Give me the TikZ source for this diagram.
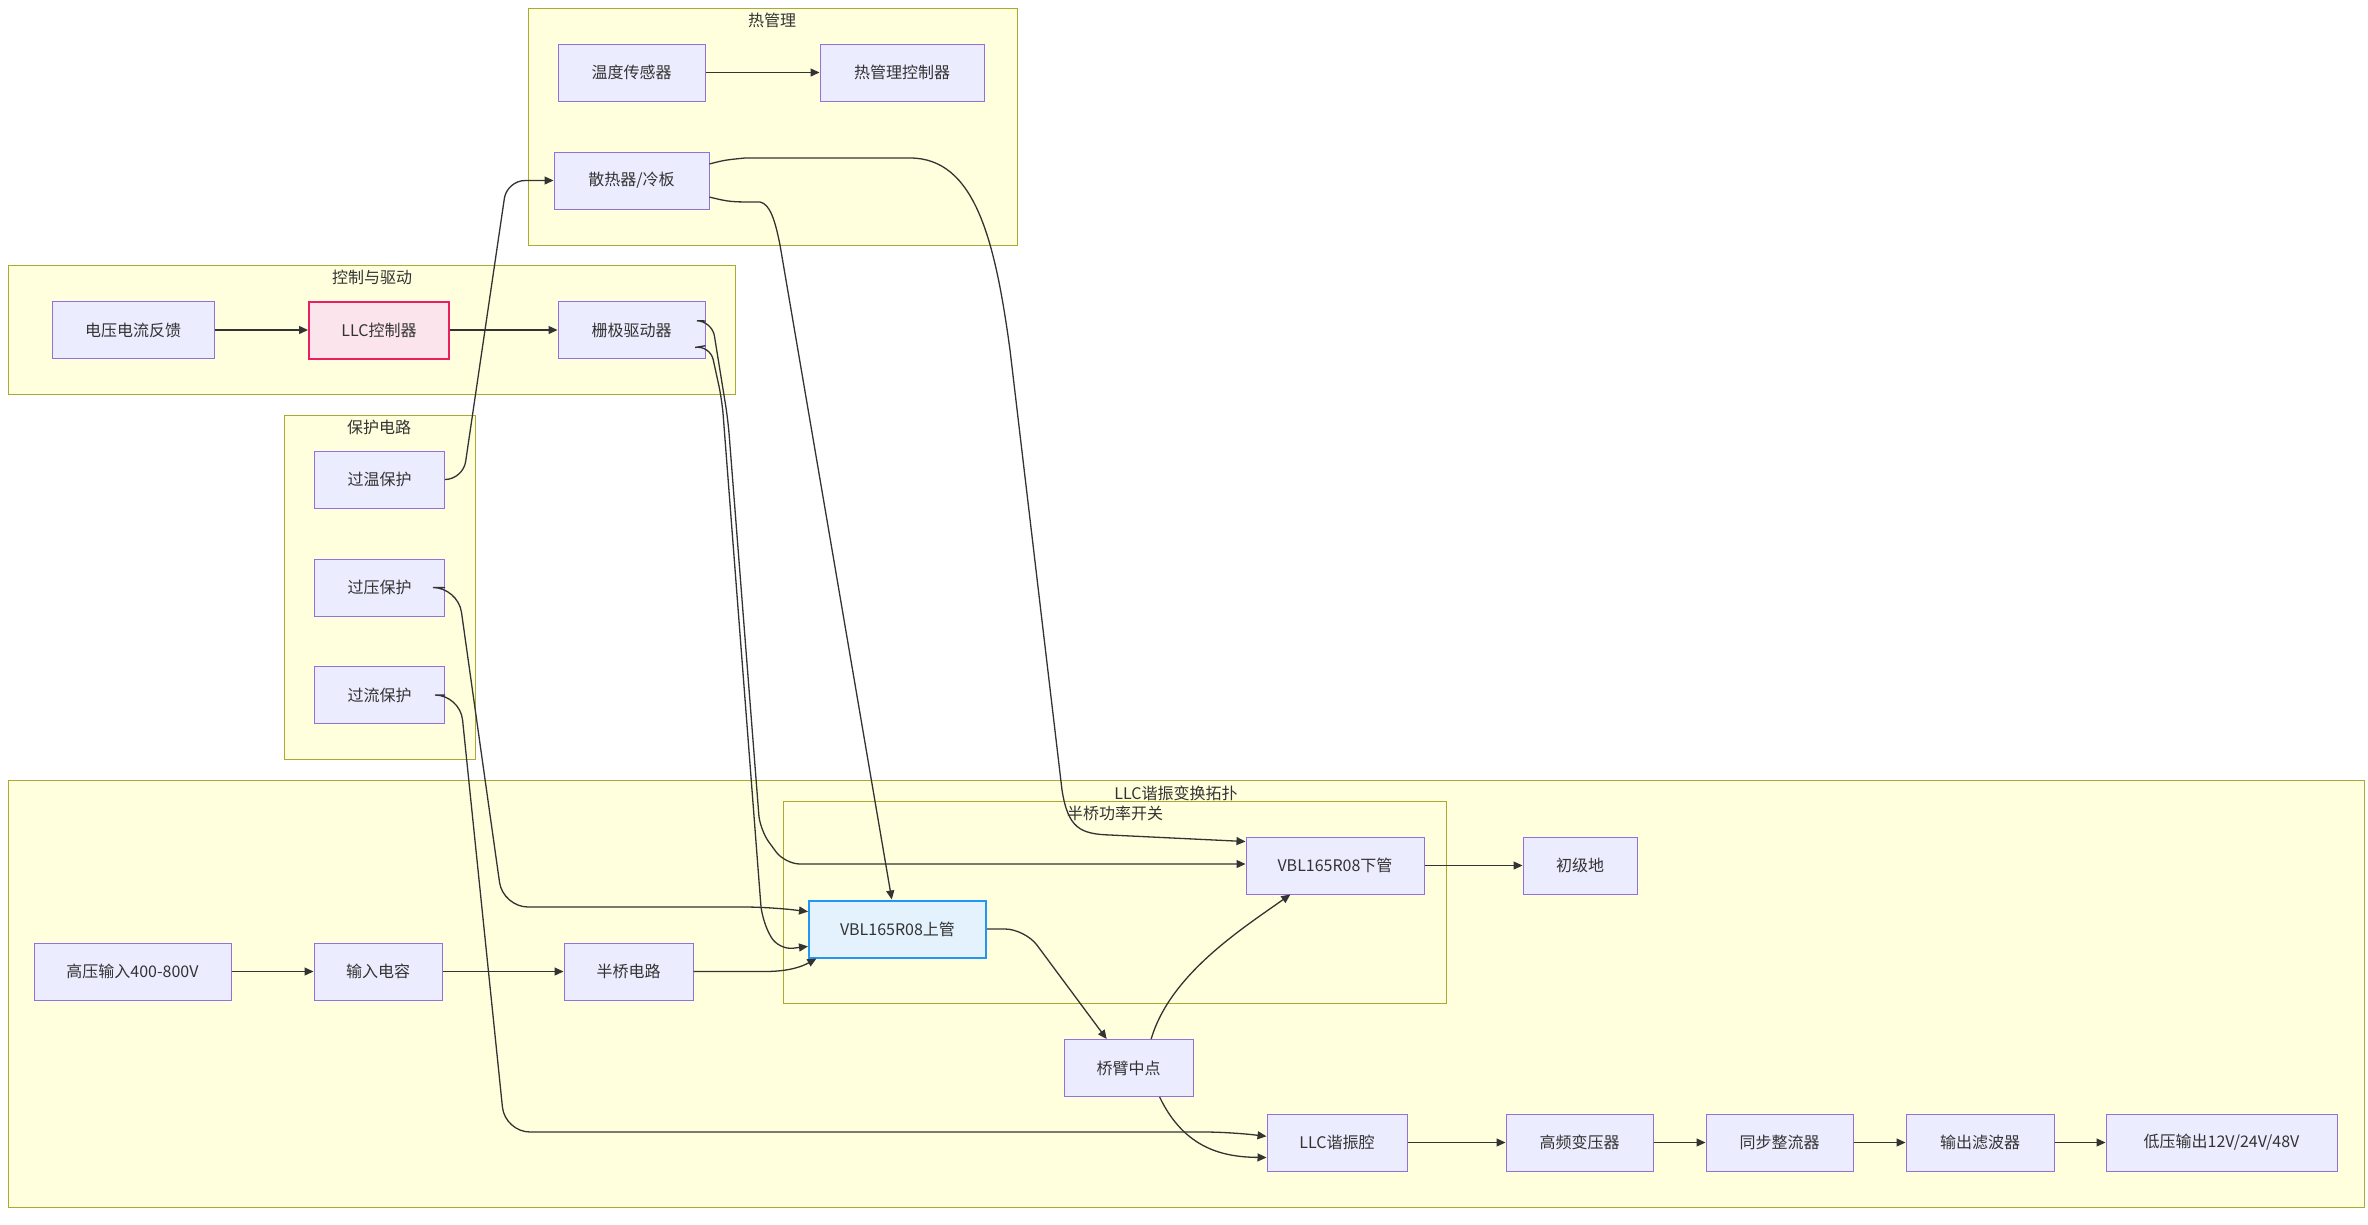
\documentclass[tikz,border=0pt]{standalone}
\usepackage{fontspec}
\setmainfont{Noto Sans CJK SC}
\usetikzlibrary{arrows.meta}
\definecolor{nodefill}{HTML}{ECECFF}
\definecolor{nodeline}{HTML}{9370DB}
\definecolor{grpfill}{HTML}{FFFFDE}
\definecolor{grpline}{HTML}{AAAA33}
\definecolor{edgecol}{HTML}{333333}
\definecolor{ctlfill}{HTML}{FCE4EC}
\definecolor{ctlline}{HTML}{E91E63}
\definecolor{fetfill}{HTML}{E3F2FD}
\definecolor{fetline}{HTML}{2196F3}

\begin{document}
\begin{tikzpicture}[x=1pt,y=-1pt,
    blk/.style={draw=nodeline,fill=nodefill,line width=1pt,minimum height=57pt,inner sep=0pt,text=edgecol,font=\fontsize{16}{19}\selectfont},
    grp/.style={draw=grpline,fill=grpfill,line width=1pt},
    grptitle/.style={text=edgecol,inner sep=0pt,font=\fontsize{16}{19}\selectfont},
    flow/.style={draw=edgecol,line width=1.3pt,-{Triangle[length=9pt,width=8pt]}}]
    \useasboundingbox (0,0) rectangle (2368,1224);

    % subgraphs
    \draw[grp] (528,8) rectangle (1017,245);
    \draw[grp] (8,265) rectangle (735,394);
    \draw[grp] (284,415) rectangle (475,759);
    \draw[grp] (8,780) rectangle (2364,1207);
    \draw[grp] (783,801) rectangle (1446,1003);
    \node[grptitle] (thtitle) at (772,20) {热管理};
    \node[grptitle] (cttitle) at (372,277) {控制与驱动};
    \node[grptitle] (prtitle) at (379,427) {保护电路};
    \node[grptitle] (lltitle) at (1176,793) {LLC谐振变换拓扑};
    \node[grptitle] (hbtitle) at (1115,813) {半桥功率开关};

    \node[blk,minimum width=147pt] (temp) at (631.5,72.5) {温度传感器};
    \node[blk,minimum width=164pt] (thctl) at (902,72.5) {热管理控制器};
    \node[blk,minimum width=155pt] (sink) at (631.5,180.5) {散热器/冷板};

    \node[blk,minimum width=162pt] (fb) at (133,330) {电压电流反馈};
    \node[blk,minimum width=140pt,draw=ctlline,fill=ctlfill,line width=2pt] (llcctl) at (379,330) {LLC控制器};
    \node[blk,minimum width=147pt] (gate) at (631.5,330) {栅极驱动器};

    \foreach \n/\t/\y in {ot/过温保护/479.5, ov/过压保护/587.5, oc/过流保护/695}
    \node[blk,minimum width=130pt] (\n) at (379.5,\y) {\t};

    \node[blk,minimum width=197pt] (hv) at (132.5,971.5) {高压输入400-800V};
    \node[blk,minimum width=128pt] (cap) at (378,971.5) {输入电容};
    \node[blk,minimum width=129pt] (hbc) at (628.5,971.5) {半桥电路};
    \node[blk,minimum width=177pt,draw=fetline,fill=fetfill,line width=2pt] (hs) at (897.5,929) {VBL165R08上管};
    \node[blk,minimum width=178pt] (ls) at (1335,865.5) {VBL165R08下管};
    \node[blk,minimum width=114pt] (gnd) at (1580,865.5) {初级地};
    \node[blk,minimum width=129pt] (mid) at (1128.5,1068) {桥臂中点};
    \node[blk,minimum width=140pt] (tank) at (1337,1142.5) {LLC谐振腔};
    \node[blk,minimum width=147pt] (xfmr) at (1579.5,1142.5) {高频变压器};
    \node[blk,minimum width=147pt] (rect) at (1779.5,1142.5) {同步整流器};
    \node[blk,minimum width=148pt] (filt) at (1980,1142.5) {输出滤波器};
    \node[blk,minimum width=231pt] (vout) at (2221.5,1142.5) {低压输出12V/24V/48V};

    % straight links
    \draw[flow] (temp) -- (thctl);
    \draw[flow] (fb) -- (llcctl);
    \draw[flow] (llcctl) -- (gate);
    \draw[flow] (hv) -- (cap);
    \draw[flow] (cap) -- (hbc);
    \draw[flow] (ls) -- (gnd);
    \foreach \a/\b in {tank/xfmr, xfmr/rect, rect/filt, filt/vout}
    \draw[flow] (\a) -- (\b);

    % long links
    \draw[flow,rounded corners=18pt] (ot.east) -- (463,479.5) -- (507,180.5) -- (sink.west);
    \draw[flow] (sink.-12) .. controls (730,202) .. (760,202) .. controls (770,204) and (775,220) .. (780,245) -- (hs.101);
    \draw[flow] (sink.12) .. controls (725,160) .. (745,158) -- (910,158) .. controls (975,158) and (995,240) .. (1010,350) -- (1062,790) .. controls (1068,828) and (1080,834) .. (1110,835) -- (ls.165);
    \draw[flow,rounded corners=15pt] (gate.7) -- (712,321) -- (728,420) -- (760,830) -- (785,864) -- (ls.west |- 0,864);
    \draw[flow,rounded corners=15pt] (gate.-12) -- (710,345) -- (722,400) -- (762,920) -- (778,950) -- (hs.191);
    \draw[flow,rounded corners=25pt] (ov.east) -- (458,587.5) -- (503,907) -- (770,907) -- (hs.169);
    \draw[flow,rounded corners=25pt] (oc.east) -- (460,695) -- (505,1132) -- (1230,1132) -- (tank.175);
    \draw[flow] (hbc.east) -- (765,971.5) .. controls (790,971.5) and (803,966) .. (hs.200);
    \draw[flow,rounded corners=20pt] (hs.east) -- (1025,929) -- (mid.127);
    \draw[flow] (mid.52) .. controls (1170,975) and (1240,930) .. (ls.213);
    \draw[flow] (mid.-43) .. controls (1185,1150) and (1225,1157) .. (tank.192);
\end{tikzpicture}
\end{document}
